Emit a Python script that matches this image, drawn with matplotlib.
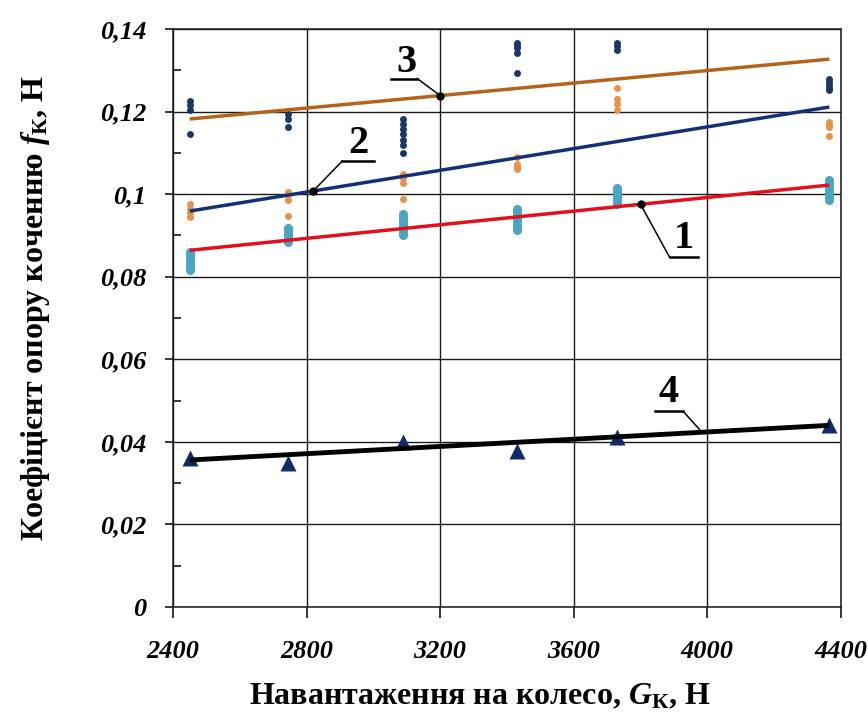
import numpy as np
import matplotlib
matplotlib.use("Agg")
import matplotlib.pyplot as plt
from matplotlib.ticker import MultipleLocator, FixedLocator

plt.rcParams['font.family'] = ['Liberation Serif', 'DejaVu Serif']
plt.rcParams['mathtext.fontset'] = 'custom'
plt.rcParams['mathtext.rm'] = 'Liberation Serif:bold'
plt.rcParams['mathtext.bf'] = 'Liberation Serif:bold'
plt.rcParams['mathtext.it'] = 'Liberation Serif:bold:italic'
plt.rcParams['mathtext.bfit'] = 'Liberation Serif:bold:italic'

# ---- data ----
x_groups = [2450, 2745, 3090, 3430, 3730, 4365]

navy_pts = [
    [0.1226, 0.1215, 0.1203, 0.1145],
    [0.1195, 0.1182, 0.1163],
    [0.1181, 0.1169, 0.1157, 0.1145, 0.1131, 0.1119, 0.1099],
    [0.1366, 0.1360, 0.1354, 0.1342, 0.1294],
    [0.1365, 0.1358, 0.1350],
    [0.1280, 0.1272, 0.1265, 0.1258, 0.1252],
]
orange_pts = [
    [0.0977, 0.0965, 0.0955, 0.0944],
    [0.1006, 0.0998, 0.0985, 0.0947],
    [0.1050, 0.1044, 0.1038, 0.1026, 0.0988],
    [0.1090, 0.1074, 0.1066, 0.1061],
    [0.1256, 0.1230, 0.1218, 0.1205],
    [0.1175, 0.1168, 0.1163, 0.1140],
]
teal_pts = [
    [0.0860, 0.0853, 0.0846, 0.0840, 0.0831, 0.0824, 0.0816],
    [0.0918, 0.0912, 0.0906, 0.0900, 0.0895, 0.0889, 0.0884],
    [0.0953, 0.0945, 0.0938, 0.0930, 0.0922, 0.0914, 0.0907, 0.0901],
    [0.0965, 0.0958, 0.0950, 0.0942, 0.0934, 0.0926, 0.0919, 0.0913],
    [0.1014, 0.1008, 0.1002, 0.0996, 0.0990, 0.0983, 0.0977],
    [0.1034, 0.1026, 0.1018, 0.1010, 0.1002, 0.0994, 0.0986],
]
triangle_vals = [0.0361, 0.0349, 0.0400, 0.0378, 0.0412, 0.0441]

trend_x = [2450, 4365]
trend1 = [0.0864, 0.1022]   # red
trend2 = [0.0959, 0.1211]   # navy
trend3 = [0.1182, 0.1327]   # brown
trend4 = [0.0356, 0.0440]   # black

labels = ['1', '2', '3', '4']
label_anchor_x = [3800, 2820, 3200, 3984]

x_ticks = [2400, 2800, 3200, 3600, 4000, 4400]
x_tick_labels = ['2400', '2800', '3200', '3600', '4000', '4400']
y_ticks = [0, 0.02, 0.04, 0.06, 0.08, 0.10, 0.12, 0.14]
y_tick_labels = ['0', '0,02', '0,04', '0,06', '0,08', '0,1', '0,12', '0,14']

# ---- figure ----
W, H = 868, 716
fig = plt.figure(figsize=(W / 100, H / 100), dpi=100)
ax = fig.add_axes([173 / W, (H - 607) / H, (841 - 173) / W, (607 - 29) / H])
ax.set_xlim(2400, 4400)
ax.set_ylim(0, 0.14)

ax.xaxis.set_major_locator(FixedLocator(x_ticks))
ax.set_xticklabels(x_tick_labels)
ax.yaxis.set_major_locator(FixedLocator(y_ticks))
ax.set_yticklabels(y_tick_labels)
ax.yaxis.set_minor_locator(MultipleLocator(0.01))

ax.grid(True, which='major', color='#1a1a1a', lw=1.0, zorder=0)
ax.set_axisbelow(True)
for s in ax.spines.values():
    s.set_linewidth(1.1)
    s.set_color('#1a1a1a')

ax.tick_params(axis='x', which='major', direction='out', length=8, width=1.1,
               pad=16, labelsize=19)
ax.tick_params(axis='y', which='major', direction='out', length=6, width=1.1,
               pad=13, labelsize=19)
ax.tick_params(axis='y', which='minor', direction='in', length=6, width=1.1)
for lab in ax.get_xticklabels() + ax.get_yticklabels():
    lab.set_fontweight('bold')
    lab.set_fontstyle('italic')

# scatter points
for xg, nv, orv, tv in zip(x_groups, navy_pts, orange_pts, teal_pts):
    ax.plot([xg] * len(tv), tv, 'o', ms=6.5, color='#4AA5C2', mec='none', zorder=3)
    ax.plot([xg] * len(orv), orv, 'o', ms=5, color='#E8914A', mec='none', zorder=3)
    ax.plot([xg] * len(nv), nv, 'o', ms=5, color='#1A3768', mec='none', zorder=3)

ax.plot(x_groups, triangle_vals, '^', ms=11, color='#0F2C68', mec='none', zorder=3)

# trend lines
ax.plot(trend_x, trend3, color='#B5631C', lw=2.5, zorder=4, solid_capstyle='butt')
ax.plot(trend_x, trend2, color='#132F78', lw=2.5, zorder=4, solid_capstyle='butt')
ax.plot(trend_x, trend1, color='#E0101C', lw=2.5, zorder=4, solid_capstyle='butt')
ax.plot(trend_x, trend4, color='black', lw=3.5, zorder=4, solid_capstyle='butt')

# annotations (pixel offsets: elbow, underline end, text centre; y downward)
trends = [trend1, trend2, trend3, trend4]
geom = [
    ((29, 53), (57, 53), (43, 34), True),
    ((29, -30), (61, -30), (45, -47), True),
    ((-23, -17), (-49, -17), (-34, -33), True),
    ((-19, -21), (-47, -21), (-33, -40), False),
]
fig.canvas.draw()
inv = ax.transData.inverted()
for lab, ax_x, tr, (elb, end, txt, dot) in zip(labels, label_anchor_x, trends, geom):
    ay = np.interp(ax_x, trend_x, tr)
    px, py = ax.transData.transform((ax_x, ay))
    pts = [(px, py), (px + elb[0], py - elb[1]), (px + end[0], py - end[1])]
    d = inv.transform(pts)
    ax.plot(d[:2, 0], d[:2, 1], color='black', lw=1.1, zorder=6, clip_on=False)
    ax.plot(d[1:, 0], d[1:, 1], color='black', lw=1.8, zorder=6, clip_on=False)
    if dot:
        ax.plot([ax_x], [ay], 'o', ms=5, color='black', zorder=7)
    tx, ty = inv.transform((px + txt[0], py - txt[1]))
    ax.text(tx, ty, lab, ha='center', va='center', fontsize=29,
            fontweight='bold', color='black', zorder=7)

ax.set_xlabel(r'Навантаження на колесо, $\mathit{G}_{\mathrm{К}}$, Н',
              fontsize=23, fontweight='bold')
ax.xaxis.set_label_coords((480 - 173) / 668, (607 - 682) / 578)
ax.set_ylabel(r'Коефіцієнт опору коченню $\mathit{f}_{\mathrm{К}}$, Н',
              fontsize=23, fontweight='bold')
ax.yaxis.set_label_coords((52 - 173) / 668, (607 - 308) / 578)

fig.savefig('out.png', dpi=100)
